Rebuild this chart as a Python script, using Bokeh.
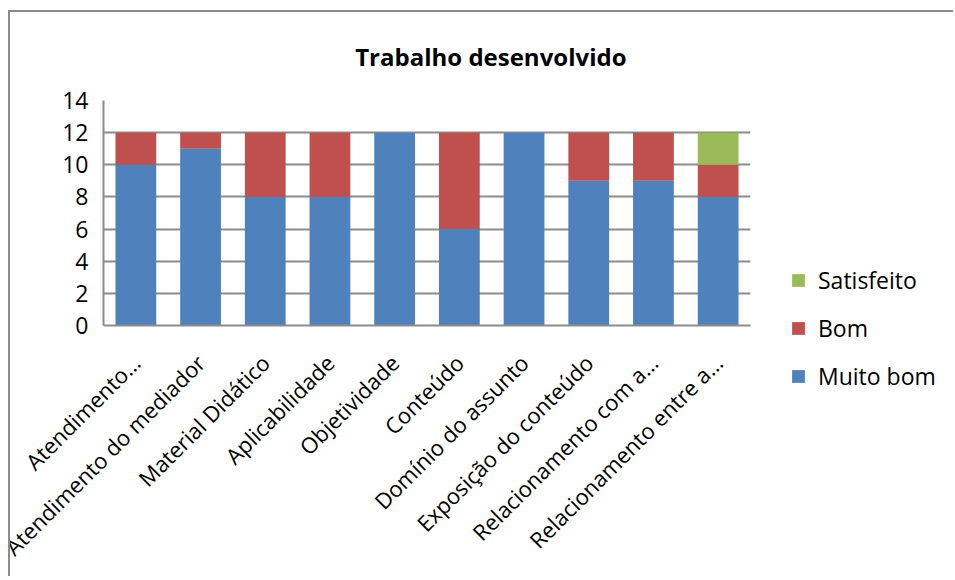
import math
from bokeh.plotting import figure
from bokeh.layouts import row, column
from bokeh.models import (ColumnDataSource, FactorRange, Range1d, Legend, LegendItem,
                          FixedTicker)
from bokeh.embed import file_html
from bokeh.resources import INLINE

# ---- data ----
categories = ["Atendimento…", "Atendimento do mediador", "Material Didático",
              "Aplicabilidade", "Objetividade", "Conteúdo", "Domínio do assunto",
              "Exposição do conteúdo", "Relacionamento com a…", "Relacionamento entre a…"]
muito_bom = [10, 11, 8, 8, 12, 6, 12, 9, 9, 8]
bom = [2, 1, 4, 4, 0, 6, 0, 3, 3, 2]
satisfeito = [0, 0, 0, 0, 0, 0, 0, 0, 0, 2]
series_keys = ["muito_bom", "bom", "satisfeito"]
series_names = ["Muito bom", "Bom", "Satisfeito"]
series_colors = ["#4F81BD", "#C0504D", "#9BBB59"]
y_ticks = [0, 2, 4, 6, 8, 10, 12, 14]
title_text = "Trabalho desenvolvido"

FONT = "Open Sans"
GRID = "#8C8C8C"
H = 564

source = ColumnDataSource(dict(cat=categories, muito_bom=muito_bom, bom=bom,
                               satisfeito=satisfeito))

p = figure(x_range=FactorRange(factors=categories, range_padding=0),
           y_range=Range1d(0, 14),
           width=750, height=H, output_backend="svg", toolbar_location=None,
           min_border_left=93, min_border_right=10, min_border_top=88,
           min_border_bottom=H + 12 - 325)

renderers = p.vbar_stack(series_keys, x="cat", width=0.63, color=series_colors,
                         line_color=None, source=source)

p.title.text = title_text
p.title.align = "right"
p.title.offset = 124
p.title.vertical_align = "middle"
p.title.standoff = 53
p.title.text_font = FONT
p.title.text_font_style = "bold"
p.title.text_font_size = "24px"
p.title.text_color = "#000000"

p.outline_line_color = None
p.xgrid.grid_line_color = None
p.ygrid.grid_line_color = GRID
p.ygrid.grid_line_width = 2
p.ygrid.ticker = FixedTicker(ticks=y_ticks)

p.yaxis.ticker = FixedTicker(ticks=y_ticks)
p.yaxis.axis_line_color = GRID
p.yaxis.axis_line_width = 2
p.yaxis.major_tick_line_color = None
p.yaxis.minor_tick_line_color = None
p.yaxis.major_label_standoff = 9
p.yaxis.major_label_text_font = FONT
p.yaxis.major_label_text_font_size = "23px"
p.yaxis.major_label_text_color = "#000000"

p.xaxis.axis_line_color = GRID
p.xaxis.axis_line_width = 2
p.xaxis.major_tick_line_color = None
p.xaxis.major_label_orientation = math.pi / 4
p.xaxis.major_label_standoff = 27
p.xaxis.major_label_text_font = FONT
p.xaxis.major_label_text_font_size = "22px"
p.xaxis.major_label_text_color = "#000000"

# legend panel: a separate frame beside the plot; its bars sit outside its
# visible range, so only the legend swatches show.
lg = figure(width=193, height=H, output_backend="svg", toolbar_location=None,
            x_axis_location=None, y_axis_location=None,
            x_range=FactorRange(factors=categories), y_range=Range1d(1000, 1001),
            min_border_left=0, min_border_right=0, min_border_top=0, min_border_bottom=0,
            align="start")
lg.outline_line_color = None
lg.grid.visible = False
swatches = lg.vbar_stack(series_keys, x="cat", width=0.63, color=series_colors,
                         line_color=None, source=source)

items = [LegendItem(label=series_names[i], renderers=[swatches[i]]) for i in (2, 1, 0)]
legend = Legend(items=items, location=(30, H + 12 - 392), orientation="vertical",
                glyph_width=16, glyph_height=16, label_standoff=12,
                label_text_font=FONT, label_text_font_size="23px",
                label_text_color="#000000", spacing=16, padding=0, margin=0,
                border_line_color=None, background_fill_alpha=0)
lg.add_layout(legend, "center")

layout = row(p, column(lg), styles={"margin-left": "8px", "margin-top": "10px",
                                    "border-left": "2px solid #8C8C8C",
                                    "border-top": "2px solid #8C8C8C"})

open("out.html", "w").write(file_html(layout, INLINE))
